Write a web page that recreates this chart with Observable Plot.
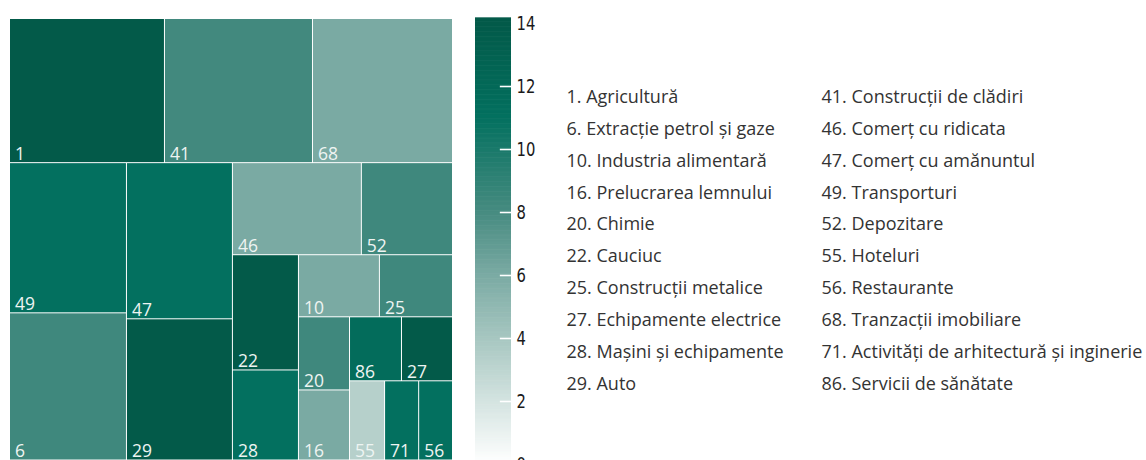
<!DOCTYPE html>
<html>
<head>
<meta charset="utf-8">
<script src="https://cdn.jsdelivr.net/npm/d3@7"></script>
<script src="https://cdn.jsdelivr.net/npm/@observablehq/plot@0.6"></script>
<style>
  body { margin: 0; background: #fff; }
  #chart { position: relative; width: 1146px; height: 460px; overflow: hidden; background: #fff; }
  #chart > .part { position: absolute; top: 0; }
  #chart svg { display: block; overflow: visible; }
</style>
</head>
<body>
<div id="chart"></div>
<script>
// ---- data ----
const codes = [1, 6, 10, 16, 20, 22, 25, 27, 28, 29, 41, 46, 47, 49, 52, 55, 56, 68, 71, 86];
const names = ["Agricultură", "Extracție petrol și gaze", "Industria alimentară", "Prelucrarea lemnului",
  "Chimie", "Cauciuc", "Construcții metalice", "Echipamente electrice", "Mașini și echipamente", "Auto",
  "Construcții de clădiri", "Comerț cu ridicata", "Comerț cu amănuntul", "Transporturi", "Depozitare",
  "Hoteluri", "Restaurante", "Tranzacții imobiliare", "Activități de arhitectură și inginerie", "Servicii de sănătate"];
// tile size (share of total, %)
const shares = [11.42, 8.80, 2.57, 1.83, 1.91, 3.89, 2.32, 1.67, 3.04, 7.65, 10.91, 6.07, 8.46, 8.98, 4.29, 1.42, 1.37, 10.32, 1.38, 1.70];
// colour value (0–14)
const levels = [14, 8.3, 6, 6, 8.3, 14, 8.3, 14, 11, 14, 8.2, 6, 11, 11, 8.3, 3.3, 11, 6, 11, 11.5];
const colorTicks = [0, 2, 4, 6, 8, 10, 12, 14];

// ---- styles ----
const FONT = "'Open Sans', 'Noto Sans', sans-serif";
const NARROW = "'Liberation Sans Narrow', 'DejaVu Sans', sans-serif";
const color = {
  type: "linear",
  domain: [0, 2, 4, 6, 8, 11, 14],
  range: ["#ffffff", "#d3e3e0", "#a6c6c0", "#7aaaa3", "#468b80", "#03705f", "#035a49"],
  interpolate: "rgb",
  clamp: true
};

const chart = document.getElementById("chart");
function place(node, left) {
  const wrap = document.createElement("div");
  wrap.className = "part";
  wrap.style.left = left + "px";
  wrap.appendChild(node);
  chart.appendChild(wrap);
  return node;
}

// squarified tiling (Bruls et al.) with a target aspect ratio that may be below 1
function squarify(ratio) {
  return (parent, x0, y0, x1, y1) => {
    const nodes = parent.children;
    let value = parent.value, i0 = 0;
    while (i0 < nodes.length) {
      const dx = x1 - x0, dy = y1 - y0;
      const alpha = Math.max(dy / dx, dx / dy) / (value * ratio);
      let i1 = i0;
      let sum = nodes[i1++].value, min = sum, max = sum;
      let best = Math.max(max / (sum * sum * alpha), sum * sum * alpha / min);
      for (; i1 < nodes.length; ++i1) {
        const v = nodes[i1].value, s = sum + v;
        const mn = Math.min(min, v), mx = Math.max(max, v), beta = s * s * alpha;
        const r = Math.max(mx / beta, beta / mn);
        if (r > best) break;
        best = r; sum = s; min = mn; max = mx;
      }
      const row = {value: sum, children: nodes.slice(i0, i1)};
      if (dx < dy) d3.treemapDice(row, x0, y0, x1, i1 >= nodes.length ? y1 : (y0 += dy * sum / value));
      else d3.treemapSlice(row, x0, y0, i1 >= nodes.length ? x1 : (x0 += dx * sum / value), y1);
      value -= sum; i0 = i1;
    }
  };
}

// ---- treemap ----
const W = 442, H = 443;
const root = d3.hierarchy({children: codes.map((c, i) => ({code: c, share: shares[i], level: levels[i]}))})
  .sum(d => d.share || 0)
  .sort((a, b) => b.value - a.value);
d3.treemap().size([W, H]).tile(squarify(0.9))(root);
// the three smallest sectors share the last strip side by side
const tail = root.leaves().slice(-3);
d3.treemapDice({value: d3.sum(tail, d => d.value), children: tail},
  d3.min(tail, d => d.x0), d3.min(tail, d => d.y0), d3.max(tail, d => d.x1), d3.max(tail, d => d.y1));
const leaves = root.leaves();

place(Plot.plot({
  width: 460, height: 460, margin: 0,
  style: {background: "transparent"},
  x: {domain: [0, W], range: [10, 453], axis: null},
  y: {domain: [0, H], range: [19, 460.5], axis: null},
  color,
  marks: [
    Plot.rect(leaves, {x1: d => d.x0, x2: d => d.x1, y1: d => d.y0, y2: d => d.y1,
      fill: d => d.data.level, insetRight: 1, insetBottom: 1}),
    Plot.text(leaves, {x: d => d.x0, y: d => d.y1, text: d => String(d.data.code),
      dx: 4.5, dy: -4, textAnchor: "start", lineAnchor: "bottom",
      fill: "#eef4f2", fontSize: 17.5, fontFamily: FONT})
  ]
}), 0);

// ---- colour bar ----
const steps = d3.range(0, 14.16, 0.04);
const bar = place(Plot.plot({
  width: 96, height: 460, margin: 0,
  style: {background: "transparent"},
  x: {domain: [0, 1], range: [10, 46], axis: null},
  y: {domain: [0, 14], range: [464, 23], axis: null},
  color,
  marks: [
    Plot.rect(steps, {x1: 0, x2: 1, y1: d => d, y2: d => d + 0.06, fill: d => d}),
    Plot.ruleY(colorTicks.slice(1, -1), {x1: 0.69, x2: 1, stroke: "white", strokeWidth: 1.6}),
    Plot.text(colorTicks, {x: 1, y: d => d, text: d => String(d), dx: 5, textAnchor: "start",
      lineAnchor: "middle", fontSize: 20, fontFamily: NARROW, fill: "#1a1a1a"})
  ]
}), 465);
// condensed look for the colour-bar tick labels
d3.select(bar).selectAll("text").each(function () {
  const t = this.getAttribute("transform") || "";
  this.setAttribute("transform", t + " scale(0.74,1)");
});

// ---- list of sectors ----
const list = codes.map((c, i) => ({text: `${c}. ${names[i]}`, col: Math.floor(i / 10), row: i % 10}));
place(Plot.plot({
  width: 590, height: 460, margin: 0,
  style: {background: "transparent"},
  x: {domain: [0, 1], range: [10, 265], axis: null},
  y: {domain: [0, 9], range: [102.5, 389], axis: null},
  marks: [
    Plot.text(list, {x: "col", y: "row", text: "text", textAnchor: "start", lineAnchor: "bottom",
      fontSize: 18, fontFamily: FONT, fill: "#333"})
  ]
}), 556);
</script>
</body>
</html>
